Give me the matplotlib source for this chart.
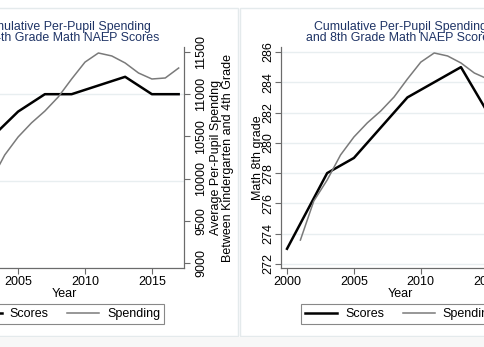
import matplotlib
matplotlib.use('Agg')
import matplotlib.pyplot as plt
from matplotlib.patches import Rectangle
from matplotlib.lines import Line2D

plt.rcParams['font.family'] = ['Liberation Sans', 'DejaVu Sans']

# NAEP years and scores
naep_years = [2000, 2003, 2005, 2007, 2009, 2011, 2013, 2015, 2017]
math4 = [226, 235, 238, 240, 240, 241, 242, 240, 240]
math8 = [273, 278, 279, 281, 283, 284, 285, 282, 283]

# cumulative per-pupil spending (K to 4th grade)
spend_years = list(range(2001, 2018))
spending = [9272, 9734, 9983, 10280, 10493, 10660, 10800, 10967, 11180,
            11380, 11488, 11453, 11370, 11251, 11180, 11192, 11310]

W, H = 485, 347
navy = '#1f3466'
axis_col = '#6b6b6b'
grid_col = '#e8eef0'
gray_line = '#7a7a7a'


def fx(px):
    return px / W


def fy(py):
    return 1 - py / H


fig = plt.figure(figsize=(W / 100, H / 100), dpi=100)

# graph region borders (Stata style)
fig.patches.append(Rectangle((-0.05, fy(336)), fx(238) + 0.05, fy(8) - fy(336),
                             transform=fig.transFigure, fill=False,
                             edgecolor='#e4eaec', lw=1))
fig.patches.append(Rectangle((fx(240), fy(336)), 1.05 - fx(240), fy(8) - fy(336),
                             transform=fig.transFigure, fill=False,
                             edgecolor='#e4eaec', lw=1))
fig.patches.append(Rectangle((0, 0), 1, fy(337), transform=fig.transFigure,
                             color='#f7f7f7', lw=0))

# cut-off caption above the panels
fig.text(0.5, 1 + 3.5 / H, 'Figure 2: Math NAEP Scores and Cumulative per-pupil spending',
         ha='center', va='baseline', fontsize=10, fontweight='bold')

plot_w = 238.8
plot_h = 221
xlim = (1999.55, 2017.4)


def setup(ax, spend_ax, ylim, yticks, title):
    ax.set_xlim(*xlim)
    ax.set_ylim(*ylim)
    ax.set_yticks(yticks)
    ax.set_xticks([2000, 2005, 2010, 2015])
    ax.grid(axis='y', color=grid_col, lw=1)
    ax.set_axisbelow(True)
    for a in (ax, spend_ax):
        a.spines['top'].set_visible(False)
        for s in ('left', 'right', 'bottom'):
            a.spines[s].set_color(axis_col)
        a.tick_params(direction='out', length=4, color=axis_col, labelsize=9, pad=2)
    ax.tick_params(axis='y', labelrotation=90, pad=0.5)
    spend_ax.tick_params(axis='y', labelrotation=90, pad=4)
    spend_ax.set_ylim(8941, 11559)
    spend_ax.set_yticks([9000, 9500, 10000, 10500, 11000, 11500])
    for lab in ax.get_yticklabels() + spend_ax.get_yticklabels():
        lab.set_va('center')
    ax.set_xlabel('Year', fontsize=9, labelpad=0)
    ax.set_title(title, color=navy, fontsize=8.9, pad=4, linespacing=0.95)
    handles = [Line2D([], [], color='black', lw=1.8),
               Line2D([], [], color=gray_line, lw=1.1)]
    leg = ax.legend(handles, ['Scores', 'Spending'], loc='center',
                    bbox_to_anchor=(0.5, -0.208), ncol=2, fontsize=9,
                    frameon=True, fancybox=False, edgecolor=axis_col,
                    handlelength=2.6, handletextpad=0.6, columnspacing=1.5,
                    borderpad=0.35)
    leg.get_frame().set_linewidth(0.8)


# left panel: 4th grade
ax1 = fig.add_axes([fx(184 - plot_w), fy(268), plot_w / W, plot_h / H])
ax1b = ax1.twinx()
ax1.plot(naep_years, math4, color='black', lw=1.8, zorder=3)
ax1b.plot(spend_years, spending, color=gray_line, lw=1.1)
setup(ax1, ax1b, (224.38, 245.43), [220, 230, 240],
      'Cumulative Per-Pupil Spending\nand 4th Grade Math NAEP Scores')
ax1.set_ylabel('Math 4th grade', fontsize=9, labelpad=-1)
ax1b.set_ylabel('Average Per-Pupil Spendng\nBetween Kindergarten and 4th Grade',
                fontsize=9, labelpad=2, linespacing=1.0)

# right panel: 8th grade
ax2 = fig.add_axes([fx(281), fy(268), plot_w / W, plot_h / H])
ax2b = ax2.twinx()
ax2.plot(naep_years, math8, color='black', lw=1.8, zorder=3)
ax2b.plot(spend_years, spending, color=gray_line, lw=1.1)
setup(ax2, ax2b, (271.73, 286.33), list(range(272, 287, 2)),
      'Cumulative Per-Pupil Spending\nand 8th Grade Math NAEP Scores')
ax2.set_ylabel('Math 8th grade', fontsize=9, labelpad=-1)
ax2b.set_ylabel('Average Per-Pupil Spendng\nBetween Kindergarten and 8th Grade',
                fontsize=9, labelpad=2, linespacing=1.0)

fig.savefig('out.png', dpi=100)
